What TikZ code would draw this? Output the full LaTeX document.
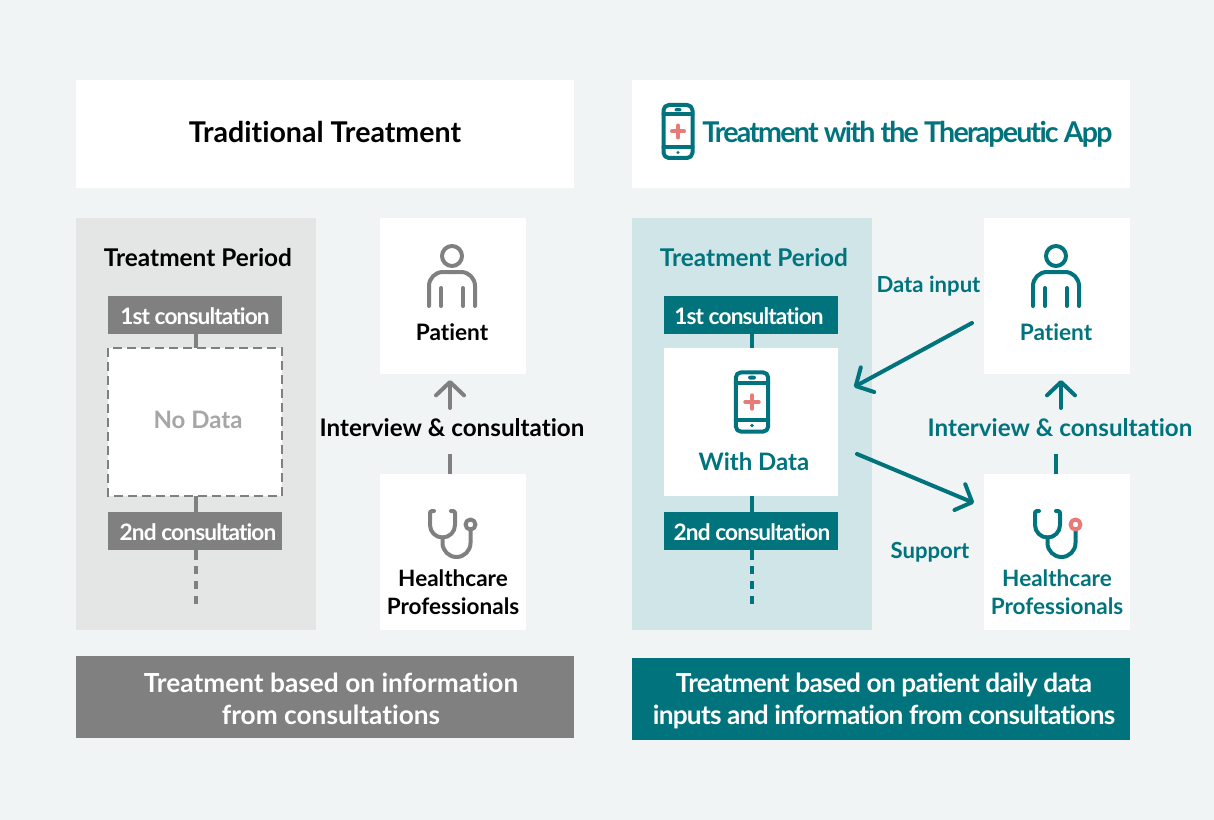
\documentclass[tikz,border=0pt]{standalone}
\usepackage{fontspec}
\setmainfont{Lato}[Ligatures=NoCommon]
\usetikzlibrary{arrows.meta}
\definecolor{bgc}{HTML}{F0F4F5}
\definecolor{teal}{HTML}{00737D}
\definecolor{gry}{HTML}{808080}
\definecolor{lgry}{HTML}{E4E6E5}
\definecolor{lteal}{HTML}{CFE5E7}
\definecolor{pink}{HTML}{E87A78}
\definecolor{nod}{HTML}{A6A6A6}
\newcommand{\px}[1]{\fontsize{#1}{#1}\selectfont}
\tikzset{
 x=0.75pt,y=-0.75pt,
 panel/.style={inner sep=0pt,outer sep=0pt,draw=none,fill=#1,anchor=north west},
 txt/.style={anchor=base,inner sep=0pt,outer sep=0pt,font=\bfseries,text=#1},
 ln/.style={line width=3pt,draw=#1},
 barb/.style={draw=#1,line width=3pt,-{Straight Barb[length=10pt,width=21pt,round]},line cap=round},
 icon/.style={line width=3pt,line cap=round,line join=round},
}
\newcommand{\person}[3]{%
 \begin{scope}[shift={(#1,#2)}]
 \draw[icon,draw=#3] (0,0) circle[radius=10];
 \draw[icon,draw=#3] (-23,50) -- (-23,30) arc[start angle=180,end angle=270,radius=14] -- (9,16) arc[start angle=270,end angle=360,radius=14] -- (23,50);
 \draw[icon,draw=#3] (-11,32) -- (-11,50);
 \draw[icon,draw=#3] (11,32) -- (11,50);
 \end{scope}}
\newcommand{\steth}[4]{%
 \begin{scope}[shift={(#1,#2)}]
 \draw[icon,draw=#3] (4,0) -- (2,0) .. controls (0.5,0) and (0,1) .. (0,2.5) -- (0,14) arc[start angle=180,end angle=0,radius=12.5] -- (25,2.5) .. controls (25,1) and (24.5,0) .. (23,0) -- (21,0);
 \draw[icon,draw=#3] (12.5,26.5) -- (12.5,32) arc[start angle=180,end angle=0,radius=14] -- (40.5,19);
 \draw[icon,draw=#4] (40.5,13.5) circle[radius=5];
 \end{scope}}
\newcommand{\phone}[3]{%
 \begin{scope}[shift={(#1,#2)},scale=#3]
 \draw[icon,draw=teal,rounded corners=4] (-14.5,-26.5) rectangle (14.5,26.5);
 \draw[icon,draw=teal] (-14.5,-17) -- (14.5,-17);
 \draw[icon,draw=teal] (-14.5,16) -- (14.5,16);
 \fill[teal,rounded corners=1.5] (-3.5,-23.5) rectangle (3.5,-20);
 \fill[teal] (0,21) circle[radius=1.7];
 \draw[line width=3pt,draw=pink,line cap=round] (-6,0) -- (6,0) (0,-6) -- (0,6);
 \end{scope}}
\begin{document}
\begin{tikzpicture}
\useasboundingbox (0,0) rectangle (1214,820);
\fill[bgc] (0,0) rectangle (1214,820);
% ---------- panels
\node[panel=white,minimum width=373.5pt,minimum height=81pt] (hdrL) at (76,80) {};
\node[panel=white,minimum width=373.5pt,minimum height=81pt] (hdrR) at (632,80) {};
\node[panel=lgry,minimum width=180pt,minimum height=309pt] (perL) at (76,218) {};
\node[panel=lteal,minimum width=180pt,minimum height=309pt] (perR) at (632,218) {};
\node[panel=white,minimum width=109.5pt,minimum height=117pt] (patL) at (380,218) {};
\node[panel=white,minimum width=109.5pt,minimum height=117pt] (patR) at (984,218) {};
\node[panel=white,minimum width=109.5pt,minimum height=117pt] (hcL) at (380,474) {};
\node[panel=white,minimum width=109.5pt,minimum height=117pt] (hcR) at (984,474) {};
\node[panel=gry,minimum width=373.5pt,minimum height=61.5pt] (botL) at (76,656) {};
\node[panel=teal,minimum width=373.5pt,minimum height=61.5pt] (botR) at (632,658) {};
% ---------- left timeline
\node[panel=gry,minimum width=130.5pt,minimum height=28.5pt] (c1L) at (108,296) {};
\node[panel=white,minimum width=130.5pt,minimum height=111pt] (ndL) at (108,348) {};
\node[panel=gry,minimum width=130.5pt,minimum height=28.5pt] (c2L) at (108,512) {};
\coordinate (endL) at (196,604); \coordinate (stubL) at (196,560); \coordinate (dashL) at (196,566);
\draw[ln=gry] (c1L.south -| endL) -- (ndL.north -| endL);
\draw[ln=gry] (ndL.south -| endL) -- (c2L.north -| endL);
\draw[ln=gry] (c2L.south -| endL) -- (stubL);
\draw[ln=gry,dash pattern=on 6pt off 5.25pt] (dashL) -- (endL);
\draw[gry,line width=1.7pt,dash pattern=on 6.75pt off 3.75pt] (ndL.north west) rectangle (ndL.south east);
% ---------- right timeline
\node[panel=teal,minimum width=130.5pt,minimum height=28.5pt] (c1R) at (664,296) {};
\node[panel=white,minimum width=130.5pt,minimum height=111pt] (wdR) at (664,348) {};
\node[panel=teal,minimum width=130.5pt,minimum height=28.5pt] (c2R) at (664,512) {};
\coordinate (endR) at (752,604); \coordinate (stubR) at (752,560); \coordinate (dashR) at (752,566);
\draw[ln=teal] (c1R.south -| endR) -- (wdR.north -| endR);
\draw[ln=teal] (wdR.south -| endR) -- (c2R.north -| endR);
\draw[ln=teal] (c2R.south -| endR) -- (stubR);
\draw[ln=teal,dash pattern=on 6pt off 5.25pt] (dashR) -- (endR);
% ---------- connectors
\coordinate (a2) at (450,454);
\coordinate (a3) at (450,408); \coordinate (a4) at (450,380);
\draw[ln=gry] (hcL.north -| a2) -- (a2);
\draw[barb=gry] (a3) -- (a4);
\coordinate (b2) at (1056,454);
\coordinate (b3) at (1061,408); \coordinate (b4) at (1061,380);
\draw[ln=teal] (hcR.north -| b2) -- (b2);
\draw[barb=teal] (b3) -- (b4);
\coordinate (d1) at (972,323); \coordinate (d2) at (854,387);
\draw[barb=teal] (d1) -- (d2);
\coordinate (s1) at (857,454); \coordinate (s2) at (974,503);
\draw[barb=teal] (s1) -- (s2);
% ---------- icons
\person{452}{256}{gry}
\person{1056}{256}{teal}
\steth{430}{511}{gry}{gry}
\steth{1035}{511}{teal}{pink}
\phone{678}{131.5}{1}
\phone{752}{402}{1.12}
% ---------- text
\node[txt=black] (t1) at (325,142.5) {\px{21.45}Traditional Treatment};
\node[txt=teal] (t2) at (907.5,142.5) {\px{21.45}\addfontfeatures{LetterSpace=-6.3}Treatment with the Therapeutic App};
\node[txt=black] (t3) at (198,267) {\px{18.3}Treatment Period};
\node[txt=teal] (t4) at (754,267) {\px{18.3}Treatment Period};
\node[txt=white] (t5) at (195,324) {\px{17}\addfontfeatures{LetterSpace=-3.9}1st consultation};
\node[txt=white] (t6) at (198,540) {\px{17}\addfontfeatures{LetterSpace=-3.9}2nd consultation};
\node[txt=white] (t7) at (749,324) {\px{17}\addfontfeatures{LetterSpace=-3.9}1st consultation};
\node[txt=white] (t8) at (752,540) {\px{17}\addfontfeatures{LetterSpace=-3.9}2nd consultation};
\node[txt=nod] (t9) at (198,428) {\px{18}No Data};
\node[txt=teal] (t10) at (754,470) {\px{18}With Data};
\node[txt=black] (t11) at (452,340) {\px{17}Patient};
\node[txt=teal] (t12) at (1056,340) {\px{17}Patient};
\node[txt=black] (t13) at (453,586) {\px{16.9}Healthcare};
\node[txt=black] (t14) at (453,614) {\px{16.9}Professionals};
\node[txt=teal] (t15) at (1057,586) {\px{16.9}Healthcare};
\node[txt=teal] (t16) at (1057,614) {\px{16.9}Professionals};
\node[txt=black] (t17) at (452,436) {\px{18.15}Interview \& consultation};
\node[txt=teal] (t18) at (1060,436) {\px{18.15}Interview \& consultation};
\node[txt=teal] (t19) at (928.5,292) {\px{16.6}Data input};
\node[txt=teal] (t20) at (930,558) {\px{16.6}Support};
\node[txt=white] (t21) at (331,692) {\px{19.7}Treatment based on information};
\node[txt=white] (t22) at (331,724) {\px{19.7}from consultations};
\node[txt=white] (t23) at (884,692) {\px{19.7}\addfontfeatures{LetterSpace=-2.9}Treatment based on patient daily data};
\node[txt=white] (t24) at (884,724) {\px{19.7}\addfontfeatures{LetterSpace=-2.9}inputs and information from consultations};
\end{tikzpicture}
\end{document}
